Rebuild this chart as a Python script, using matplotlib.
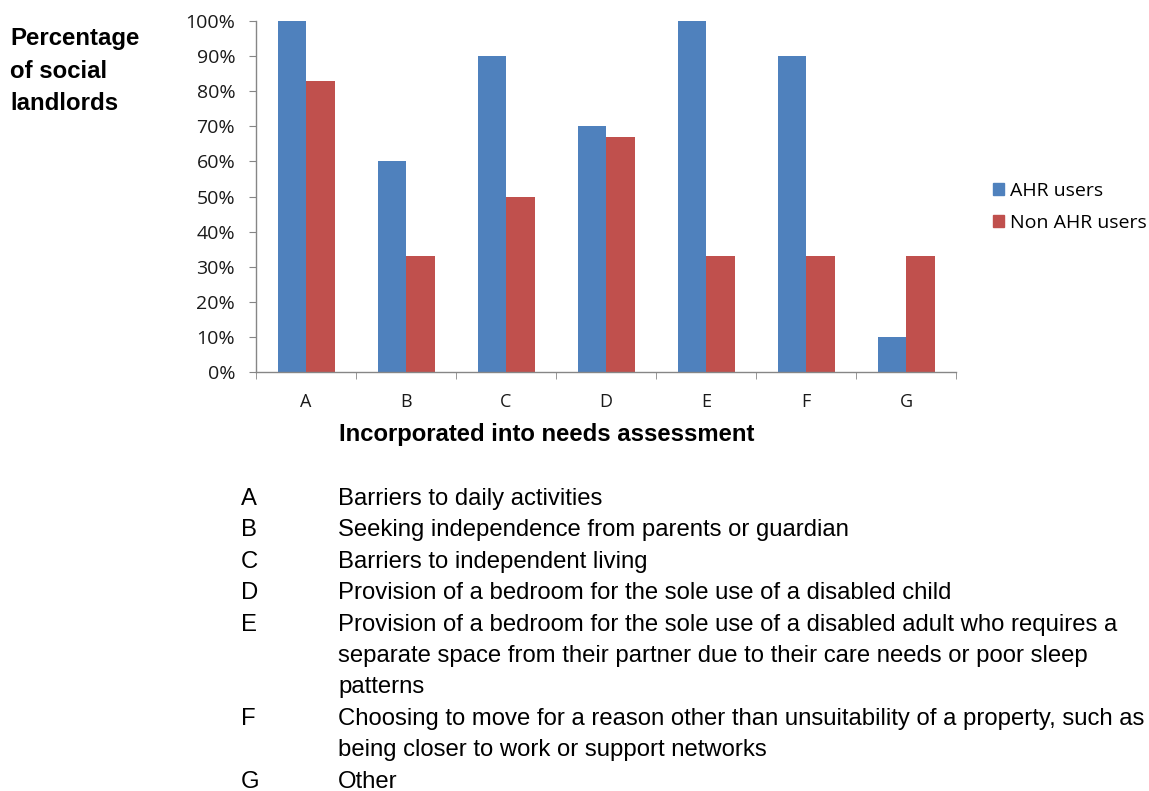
import matplotlib
matplotlib.use("Agg")
import matplotlib.pyplot as plt
import numpy as np
from matplotlib.ticker import FixedLocator, PercentFormatter
from matplotlib.patches import Rectangle

categories = ["A", "B", "C", "D", "E", "F", "G"]
ahr_users = [100, 60, 90, 70, 100, 90, 10]
non_ahr_users = [83, 33, 50, 67, 33, 33, 33]
series_names = ["AHR users", "Non AHR users"]
descriptions = [
    ("A", "Barriers to daily activities"),
    ("B", "Seeking independence from parents or guardian"),
    ("C", "Barriers to independent living"),
    ("D", "Provision of a bedroom for the sole use of a disabled child"),
    ("E", "Provision of a bedroom for the sole use of a disabled adult who requires a\nseparate space from their partner due to their care needs or poor sleep\npatterns"),
    ("F", "Choosing to move for a reason other than unsuitability of a property, such as\nbeing closer to work or support networks"),
    ("G", "Other"),
]
y_title_lines = ["Percentage", "of social", "landlords"]
x_title = "Incorporated into needs assessment"

W, H = 1149, 791
fig = plt.figure(figsize=(W / 100, H / 100), dpi=100)
ax = fig.add_axes([256 / W, (H - 372) / H, 700 / W, 351 / H])

blue = "#4F81BD"
red = "#C0504D"
x = np.arange(len(categories))
bw = 0.285
ax.bar(x - bw / 2, ahr_users, width=bw, color=blue, label=series_names[0])
ax.bar(x + bw / 2, non_ahr_users, width=bw, color=red, label=series_names[1])

ax.set_xlim(-0.5, len(categories) - 0.5)
ax.set_ylim(0, 100)
ax.set_yticks(np.arange(0, 101, 10))
ax.yaxis.set_major_formatter(PercentFormatter(decimals=0))
ax.set_xticks(x)
ax.set_xticklabels(categories)
ax.xaxis.set_minor_locator(FixedLocator(np.arange(-0.5, len(categories), 1)))

tick_font = "Open Sans"
axis_gray = "#868686"
for s in ["top", "right"]:
    ax.spines[s].set_visible(False)
for s in ["left", "bottom"]:
    ax.spines[s].set_color(axis_gray)
    ax.spines[s].set_linewidth(1.0)
ax.tick_params(axis="y", which="major", direction="out", length=5, color=axis_gray,
               labelsize=14, labelcolor="#1a1a1a", pad=10)
ax.tick_params(axis="x", which="major", length=0, labelsize=13, labelcolor="#1a1a1a", pad=15)
ax.tick_params(axis="x", which="minor", direction="out", length=5, color=axis_gray)
for lbl in ax.get_yticklabels() + ax.get_xticklabels():
    lbl.set_fontfamily(tick_font)

# Legend
fig.legend(handles=[Rectangle((0, 0), 1, 1, color=blue), Rectangle((0, 0), 1, 1, color=red)],
           labels=series_names, loc="upper left", bbox_to_anchor=(993 / W, 1 - 182 / H),
           frameon=False, prop={"family": tick_font, "size": 14},
           handlelength=0.57, handleheight=0.57, handletextpad=0.3, labelspacing=0.7,
           borderpad=0, borderaxespad=0)

# Y axis title
for i, line in enumerate(y_title_lines):
    fig.text(10 / W, 1 - (45 + i * 32.5) / H, line, ha="left", va="baseline",
             fontsize=17.3, fontweight="bold", family="Liberation Sans")

# X axis title
fig.text(547 / W, 1 - 441 / H, x_title, ha="center", va="baseline",
         fontsize=17.2, fontweight="bold", family="Liberation Sans")

# Description list
y = 505
step = 31.4
for letter, desc in descriptions:
    fig.text(241 / W, 1 - y / H, letter, ha="left", va="baseline", fontsize=17.2,
             family="Liberation Sans")
    lines = desc.split("\n")
    for i, line in enumerate(lines):
        fig.text(338 / W, 1 - (y + i * step) / H, line, ha="left", va="baseline", fontsize=17.2,
                 family="Liberation Sans")
    y += step * len(lines)

fig.savefig("out.png", dpi=100)
